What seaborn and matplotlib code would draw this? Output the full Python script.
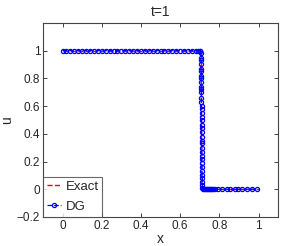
import matplotlib
matplotlib.use("Agg")
import matplotlib.pyplot as plt
import seaborn as sns

# exact solution (step)
x_exact = [0.0, 0.707, 0.707, 1.0]
u_exact = [1.0, 1.0, 0.0, 0.0]

# DG solution points
x_left = [0.0, 0.02, 0.04, 0.06, 0.08, 0.10, 0.12, 0.14, 0.16, 0.18,
          0.20, 0.22, 0.24, 0.26, 0.28, 0.30, 0.32, 0.34, 0.36, 0.38,
          0.40, 0.42, 0.44, 0.46, 0.48, 0.50, 0.52, 0.54, 0.56, 0.58,
          0.60, 0.62, 0.64, 0.66, 0.68, 0.69, 0.70, 0.703]
u_left = [1.0] * len(x_left)

x_shock = [0.705, 0.705, 0.706, 0.706, 0.706, 0.707, 0.707, 0.707, 0.707, 0.708,
           0.708, 0.708, 0.708, 0.708, 0.709, 0.709, 0.709, 0.709, 0.709, 0.709,
           0.710, 0.710, 0.710, 0.710, 0.710, 0.711, 0.711, 0.711, 0.711, 0.711,
           0.712, 0.712, 0.712, 0.713, 0.713, 0.714, 0.714]
u_shock = [0.98, 0.95, 0.93, 0.90, 0.87, 0.85, 0.82, 0.80, 0.77, 0.74,
           0.72, 0.70, 0.66, 0.63, 0.60, 0.58, 0.55, 0.52, 0.50, 0.46,
           0.44, 0.41, 0.38, 0.35, 0.33, 0.30, 0.27, 0.24, 0.22, 0.19,
           0.16, 0.13, 0.10, 0.08, 0.05, 0.03, 0.01]

x_right = [0.716, 0.72, 0.725, 0.73, 0.735, 0.74, 0.745, 0.75, 0.755, 0.76,
           0.77, 0.78, 0.795, 0.815, 0.84, 0.855, 0.88, 0.895, 0.915, 0.94,
           0.965, 0.99]
u_right = [0.0] * len(x_right)

x_dg = x_left + x_shock + x_right
u_dg = u_left + u_shock + u_right

sns.set_style("ticks")
plt.rcParams["font.family"] = ["Liberation Sans", "DejaVu Sans"]
plt.rcParams["xtick.direction"] = "in"
plt.rcParams["ytick.direction"] = "in"

fig = plt.figure(figsize=(3.07, 2.46), dpi=100)
ax = fig.add_axes([0.140, 0.118, 0.766, 0.789])

sns.lineplot(x=x_exact, y=u_exact, ax=ax, sort=False, estimator=None,
             color="red", linestyle="--", linewidth=1.0, label="Exact")
sns.lineplot(x=x_dg, y=u_dg, ax=ax, sort=False, estimator=None,
             color="blue", linestyle="--", linewidth=0.9, marker="o",
             markersize=3.0, markerfacecolor="none", markeredgecolor="blue",
             markeredgewidth=0.9, label="DG")

ax.set_xlim(-0.1, 1.1)
ax.set_ylim(-0.2, 1.2)
ax.set_xticks([0, 0.2, 0.4, 0.6, 0.8, 1])
ax.set_xticklabels(["0", "0.2", "0.4", "0.6", "0.8", "1"])
ax.set_yticks([-0.2, 0, 0.2, 0.4, 0.6, 0.8, 1])
ax.set_yticklabels(["\u22120.2", "0", "0.2", "0.4", "0.6", "0.8", "1"])
ax.tick_params(labelsize=8.5, length=3, width=0.6, top=True, right=True, pad=2)
for s in ax.spines.values():
    s.set_visible(True)
    s.set_linewidth(0.8)
    s.set_color("#444444")

ax.set_title("t=1", fontsize=10, pad=5)
ax.set_xlabel("x", fontsize=10, labelpad=0)
ax.set_ylabel("u", fontsize=10, labelpad=2)

leg = ax.legend(loc="lower left", fontsize=9.5, frameon=True, fancybox=False,
                borderaxespad=0, handlelength=1.1, handletextpad=0.3,
                borderpad=0.3, labelspacing=0.6)
leg.get_frame().set_edgecolor("#444444")
leg.get_frame().set_linewidth(0.8)

fig.savefig("out.png", dpi=100)
